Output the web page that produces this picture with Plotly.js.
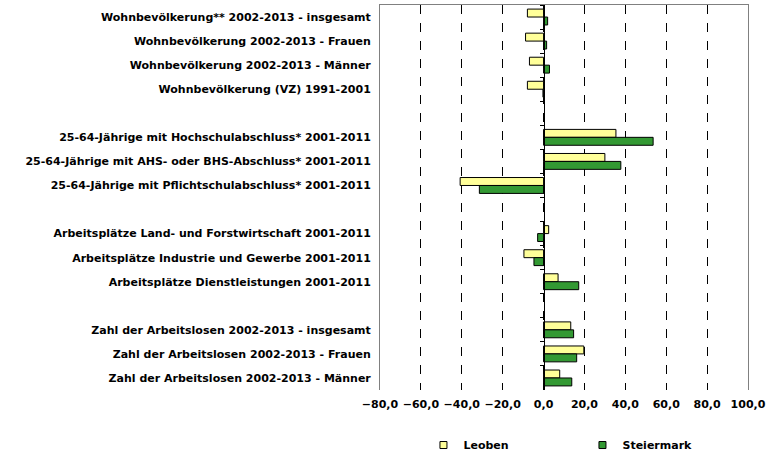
<!DOCTYPE html>
<html>
<head>
<meta charset="utf-8">
<script src="https://cdn.plot.ly/plotly-3.0.1.min.js"></script>
<style>html,body{margin:0;padding:0;background:#fff;}#chart{width:777px;height:458px;}</style>
</head>
<body>
<div id="chart"></div>
<script>
const categories = [
  "Wohnbevölkerung** 2002-2013 - insgesamt",
  "Wohnbevölkerung 2002-2013 - Frauen",
  "Wohnbevölkerung 2002-2013 - Männer",
  "Wohnbevölkerung (VZ) 1991-2001",
  " ",
  "25-64-Jährige mit Hochschulabschluss* 2001-2011",
  "25-64-Jährige mit AHS- oder BHS-Abschluss* 2001-2011",
  "25-64-Jährige mit Pflichtschulabschluss* 2001-2011",
  "  ",
  "Arbeitsplätze Land- und Forstwirtschaft 2001-2011",
  "Arbeitsplätze Industrie und Gewerbe 2001-2011",
  "Arbeitsplätze Dienstleistungen 2001-2011",
  "   ",
  "Zahl der Arbeitslosen 2002-2013 - insgesamt",
  "Zahl der Arbeitslosen 2002-2013 - Frauen",
  "Zahl der Arbeitslosen 2002-2013 - Männer"
];
const leoben = [-7.9, -8.8, -6.9, -7.9, null, 35.4, 30.0, -40.8, null, 2.5, -9.6, 7.1, null, 13.3, 19.7, 7.9];
const steiermark = [2.0, 1.5, 2.9, -0.3, null, 53.6, 37.8, -31.4, null, -2.9, -4.7, 17.2, null, 14.7, 16.2, 13.8];
const seriesNames = ["Leoben", "Steiermark"];
const seriesColors = ["#FFFF99", "#339933"];
const xTicks = [-80, -60, -40, -20, 0, 20, 40, 60, 80, 100];

const font = {family: "DejaVu Sans, Verdana, sans-serif", size: 11, color: "#000", weight: "bold"};
const xmin = -80, xmax = 100;

const traces = [
  {type: "bar", orientation: "h", name: seriesNames[0], y: categories, x: leoben,
   marker: {color: seriesColors[0], line: {color: "#000", width: 1}}, showlegend: false, hoverinfo: "x+y"},
  {type: "bar", orientation: "h", name: seriesNames[1], y: categories, x: steiermark,
   marker: {color: seriesColors[1], line: {color: "#000", width: 1}}, showlegend: false, hoverinfo: "x+y"},
  // category axis crossing at zero (ticks only)
  {type: "scatter", mode: "markers", x: categories.map(() => null), y: categories,
   xaxis: "x2", yaxis: "y2", showlegend: false, hoverinfo: "skip", marker: {opacity: 0}},
  // legend entries
  {type: "scatter", mode: "markers", name: seriesNames[0], x: [null], y: [null],
   marker: {symbol: "square", size: 7, color: seriesColors[0], line: {color: "#000", width: 1}}},
  {type: "scatter", mode: "markers", name: seriesNames[1], x: [null], y: [null],
   marker: {symbol: "square", size: 7, color: seriesColors[1], line: {color: "#000", width: 1}}}
];

const layout = {
  width: 777, height: 458,
  margin: {l: 380, r: 29, t: 5, b: 68, autoexpand: false},
  paper_bgcolor: "#fff", plot_bgcolor: "#fff",
  font: font,
  separators: ",.",
  barmode: "group",
  bargap: 0.34,
  bargroupgap: 0,
  xaxis: {
    range: [xmin, xmax], tickvals: xTicks, tickformat: ".1f",
    showgrid: true, gridcolor: "#000", gridwidth: 1, griddash: "dash",
    zeroline: false, showline: false, ticks: "", ticklabelstandoff: 6,
    tickfont: font, fixedrange: true
  },
  xaxis2: {
    overlaying: "x", matches: "x", side: "top", anchor: "y",
    showline: true, linecolor: "#808080", linewidth: 1,
    showticklabels: false, showgrid: false, zeroline: false, ticks: ""
  },
  yaxis: {
    type: "category", categoryorder: "array", categoryarray: categories,
    autorange: false, range: [categories.length - 0.5, -0.5],
    showline: true, mirror: true, linecolor: "#808080", linewidth: 1,
    showgrid: false, zeroline: false, ticks: "", ticklabelstandoff: 6, tickfont: font, fixedrange: true
  },
  yaxis2: {
    type: "category", overlaying: "y", matches: "y", anchor: "free",
    position: (0 - xmin) / (xmax - xmin),
    showline: true, linecolor: "#000", linewidth: 1.5,
    ticks: "outside", ticklen: 4, tickwidth: 1, tickcolor: "#000", tickson: "boundaries",
    showticklabels: false, showgrid: false, zeroline: false
  },
  legend: {
    orientation: "h", xref: "container", yref: "container",
    x: 0.545, xanchor: "left", y: 0.06, yanchor: "top",
    font: font, entrywidth: 114, entrywidthmode: "pixels", itemwidth: 30,
    bgcolor: "rgba(0,0,0,0)"
  },
  showlegend: true
};

Plotly.newPlot("chart", traces, layout, {displayModeBar: false, staticPlot: true});
</script>
</body>
</html>
